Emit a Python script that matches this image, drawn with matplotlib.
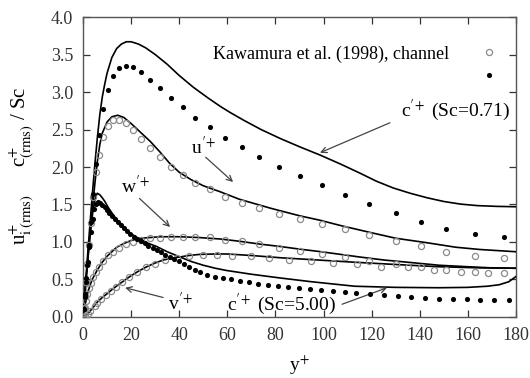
import matplotlib
matplotlib.use("Agg")
import matplotlib.pyplot as plt
from matplotlib.lines import Line2D

plt.rcParams['font.family'] = ['Liberation Serif', 'DejaVu Serif']
plt.rcParams['mathtext.fontset'] = 'stix'

# ---------------- data ----------------
# model curves (solid lines)
c071_line_x = [0, 1, 2, 3, 4, 5, 6, 7, 8, 9, 10, 12, 14, 16, 18, 20, 23, 26, 30, 35, 40, 46, 52, 57, 61, 67, 74, 82, 90, 98.5, 107, 115, 122, 129, 136, 143, 150, 157, 164, 172, 180]
c071_line_y = [0, 0.43, 0.86, 1.28, 1.68, 2.06, 2.4, 2.7, 2.93, 3.1, 3.25, 3.46, 3.58, 3.64, 3.67, 3.67, 3.64, 3.59, 3.5, 3.37, 3.22, 3.06, 2.92, 2.81, 2.73, 2.62, 2.50, 2.38, 2.27, 2.16, 2.04, 1.92, 1.81, 1.72, 1.65, 1.59, 1.54, 1.505, 1.485, 1.475, 1.47]

u_line_x = [0, 1, 2, 3, 4, 5, 6, 7, 8, 10, 12, 14.5, 17, 20, 24, 28, 32, 36, 40, 45, 50, 57, 65, 78, 90, 98.5, 107, 119, 130, 143, 155, 165, 180]
u_line_y = [0, 0.38, 0.76, 1.13, 1.48, 1.8, 2.08, 2.3, 2.45, 2.6, 2.67, 2.69, 2.66, 2.58, 2.46, 2.34, 2.2, 2.05, 1.93, 1.83, 1.75, 1.67, 1.57, 1.45, 1.35, 1.29, 1.22, 1.13, 1.05, 0.99, 0.93, 0.9, 0.87]

w_line_x = [0, 1, 2, 3, 4, 6, 8, 10, 12, 14, 17, 20, 24, 28, 32, 40, 48, 57, 65, 74, 82, 90, 99, 107, 115, 125, 135, 148, 160, 170, 180]
w_line_y = [0, 0.18, 0.33, 0.43, 0.51, 0.63, 0.73, 0.81, 0.87, 0.93, 0.98, 1.02, 1.05, 1.06, 1.07, 1.07, 1.06, 1.04, 1.01, 0.97, 0.94, 0.905, 0.87, 0.835, 0.80, 0.76, 0.73, 0.69, 0.67, 0.655, 0.65]

v_line_x = [0, 1, 2, 3, 4, 5.7, 8, 10, 12.6, 16, 19.5, 23, 26.5, 30, 33.4, 37, 40.3, 44, 48.6, 55, 60, 70, 82, 95, 113, 130, 148, 165, 180]
v_line_y = [0, 0.01, 0.04, 0.08, 0.12, 0.19, 0.26, 0.31, 0.38, 0.46, 0.54, 0.61, 0.67, 0.72, 0.76, 0.785, 0.80, 0.82, 0.835, 0.84, 0.84, 0.82, 0.79, 0.765, 0.73, 0.70, 0.67, 0.655, 0.65]

c5_line_x = [0, 1, 2, 3, 4, 5, 5.9, 7, 8, 9.1, 10.5, 12.6, 14.5, 16.8, 19.5, 23, 26.5, 30.6, 35, 40.3, 45, 50, 55, 59.7, 70, 82, 95, 113, 130, 148, 160, 168, 173, 177, 180]
c5_line_y = [0, 0.4, 0.78, 1.1, 1.38, 1.57, 1.65, 1.63, 1.59, 1.54, 1.46, 1.36, 1.28, 1.2, 1.12, 1.05, 0.99, 0.94, 0.87, 0.80, 0.74, 0.69, 0.65, 0.62, 0.57, 0.52, 0.47, 0.41, 0.395, 0.39, 0.395, 0.41, 0.43, 0.47, 0.54]

# DNS (Kawamura et al. 1998)
dns_x = [0.3, 0.7, 1.2, 1.8, 2.5, 3.3, 4.3, 5.4, 6.7, 8.5, 10.5, 12.6, 15, 17.9, 20.8, 24.2, 27.8, 32, 36.5, 41.5, 46.6, 52.8, 59, 66, 73.3, 81.5, 90, 99.4, 109, 119, 130, 140.5, 151, 163, 175]
c071_dns = [0.11, 0.27, 0.46, 0.69, 0.96, 1.27, 1.64, 2.04, 2.43, 2.77, 3.03, 3.21, 3.32, 3.35, 3.33, 3.27, 3.16, 3.05, 2.92, 2.8, 2.65, 2.53, 2.39, 2.27, 2.13, 2.0, 1.88, 1.76, 1.63, 1.51, 1.39, 1.27, 1.17, 1.1, 1.07]
u_dns = [0.12, 0.28, 0.47, 0.7, 0.96, 1.25, 1.6, 1.93, 2.16, 2.4, 2.55, 2.63, 2.63, 2.59, 2.49, 2.38, 2.25, 2.13, 2.0, 1.89, 1.78, 1.70, 1.60, 1.52, 1.45, 1.37, 1.31, 1.24, 1.17, 1.09, 1.01, 0.94, 0.87, 0.81, 0.78]
w_dns = [0.05, 0.12, 0.21, 0.3, 0.38, 0.45, 0.53, 0.6, 0.67, 0.75, 0.82, 0.87, 0.92, 0.97, 1.0, 1.03, 1.05, 1.05, 1.06, 1.06, 1.06, 1.06, 1.03, 1.01, 0.97, 0.92, 0.88, 0.84, 0.80, 0.75, 0.70, 0.66, 0.63, 0.60, 0.58]

v_dns_x = [1.0, 2.0, 3.0, 4.8, 6.0, 7.6, 9.5, 11.5, 13.8, 16.3, 19.3, 22.5, 26, 29.9, 34.2, 39, 44, 49.8, 55.6, 62, 69.7, 77.5, 85.8, 94.7, 104, 113.8, 124, 135, 146, 157, 168.5]
v_dns = [0.01, 0.04, 0.08, 0.15, 0.19, 0.24, 0.29, 0.34, 0.4, 0.46, 0.53, 0.6, 0.66, 0.71, 0.76, 0.79, 0.81, 0.82, 0.82, 0.81, 0.81, 0.78, 0.76, 0.75, 0.72, 0.70, 0.67, 0.66, 0.63, 0.60, 0.59]

c5_dns_x = [0.3, 0.8, 1.4, 2.0, 2.6, 3.3, 4.0, 4.7, 5.5, 6.3, 7.2, 8.1, 9.0, 10.0, 11.0, 12.1, 13.2, 14.4, 15.6, 16.9, 18.2, 19.6, 21.0, 22.5, 24.0, 25.6, 27.2, 28.9, 30.6, 32.4, 34.2, 36.1, 38.0, 40.0, 42.1, 44.2, 46.4,
            48.6, 51.7, 54.8, 58.2, 61.7, 65.2, 69.0, 72.8, 76.9, 81.1, 85.2, 89.8, 94.5, 99.1, 103.9, 108.8, 113.6,
            119.5, 125, 131, 136.5, 142, 148, 153.8, 159.5, 165.2, 171, 177]
c5_dns = [0.11, 0.30, 0.52, 0.73, 0.93, 1.13, 1.31, 1.44, 1.51, 1.53, 1.52, 1.49, 1.46, 1.42, 1.38, 1.34, 1.30, 1.26, 1.22, 1.18, 1.14, 1.10, 1.07, 1.04, 1.01, 0.98, 0.95, 0.92, 0.89, 0.86, 0.83, 0.80, 0.77, 0.74, 0.70, 0.665, 0.63,
          0.596, 0.56, 0.538, 0.524, 0.507, 0.48, 0.462, 0.44, 0.427, 0.413, 0.40, 0.387, 0.369, 0.356, 0.342, 0.333, 0.324,
          0.31, 0.29, 0.275, 0.262, 0.252, 0.245, 0.24, 0.235, 0.232, 0.23, 0.228]

x_ticks = [0, 20, 40, 60, 80, 100, 120, 140, 160, 180]
y_ticks = [0.0, 0.5, 1.0, 1.5, 2.0, 2.5, 3.0, 3.5, 4.0]

# ---------------- figure ----------------
fig = plt.figure(figsize=(5.30, 3.78), dpi=100)
ax = fig.add_axes([0.1566, 0.1614, 0.8170, 0.7936])

lc = 'black'
lw = 1.2
for xs, ys in [(c071_line_x, c071_line_y), (u_line_x, u_line_y), (w_line_x, w_line_y),
               (v_line_x, v_line_y), (c5_line_x, c5_line_y)]:
    ax.plot(xs, ys, color=lc, lw=lw, zorder=3)

oc = dict(ls='none', marker='o', ms=4.4, mfc='none', mec='#8a8a8a', mew=0.9, zorder=4)
fd = dict(ls='none', marker='o', ms=3.7, mfc='black', mec='black', mew=0, zorder=4)
ax.plot(dns_x, u_dns, **oc)
ax.plot(dns_x, w_dns, **oc)
ax.plot(v_dns_x, v_dns, **oc)
ax.plot(dns_x, c071_dns, **fd)
ax.plot(c5_dns_x, c5_dns, **fd)

ax.set_xlim(0, 180)
ax.set_ylim(0, 4.0)
ax.set_xticks(x_ticks)
ax.set_yticks(y_ticks)
ax.set_xticklabels([str(t) for t in x_ticks])
ax.set_yticklabels([f"{t:.1f}" for t in y_ticks])
ax.tick_params(direction='in', length=5, width=0.9, top=True, right=True,
               labelsize=13, colors='#333333', pad=7)
for s in ax.spines.values():
    s.set_color('#555555')
    s.set_linewidth(1.0)

ax.set_xlabel(r'y$^{+}$', fontsize=14, labelpad=7)
fig.text(0.040, 0.664, r'c$^{+}_{\mathrm{(rms)}}$ / Sc', rotation=90, ha='center', va='center', fontsize=15)
fig.text(0.040, 0.418, r'u$^{+}_{\mathrm{i\;(rms)}}$', rotation=90, ha='center', va='center', fontsize=15)

# legend
h1 = Line2D([], [], **oc)
h2 = Line2D([], [], **fd)
ax.legend([h1, h2], ['Kawamura et al. (1998), channel', ' '], loc='upper right',
          bbox_to_anchor=(0.995, 0.96), frameon=False, markerfirst=False,
          fontsize=13, handlelength=1.0, handletextpad=1.7, labelspacing=0.3)

# annotations
ap = dict(arrowstyle='->', color='#444444', lw=0.9, shrinkA=0, shrinkB=0)
fs = 14
ax.annotate('', xy=(98.5, 2.19), xytext=(127.6, 2.59), arrowprops=ap)
ax.text(154.7, 2.75, r"c$^{\prime\!+}$ (Sc=0.71)", ha='center', va='center', fontsize=fs)
ax.annotate('', xy=(62.4, 1.8), xytext=(51.0, 2.13), arrowprops=ap)
ax.text(50, 2.27, r"u$^{\prime\!+}$", ha='center', va='center', fontsize=fs)
ax.annotate('', xy=(36.2, 1.2), xytext=(23.5, 1.58), arrowprops=ap)
ax.text(22, 1.75, r"w$^{\prime\!+}$", ha='center', va='center', fontsize=fs)
ax.annotate('', xy=(17.5, 0.39), xytext=(33.3, 0.26), arrowprops=ap)
ax.text(40.5, 0.19, r"v$^{\prime\!+}$", ha='center', va='center', fontsize=fs)
ax.annotate('', xy=(126.4, 0.39), xytext=(107.7, 0.17), arrowprops=ap)
ax.text(82.7, 0.17, r"c$^{\prime\!+}$ (Sc=5.00)", ha='center', va='center', fontsize=fs)

fig.savefig('out.png', dpi=100)
